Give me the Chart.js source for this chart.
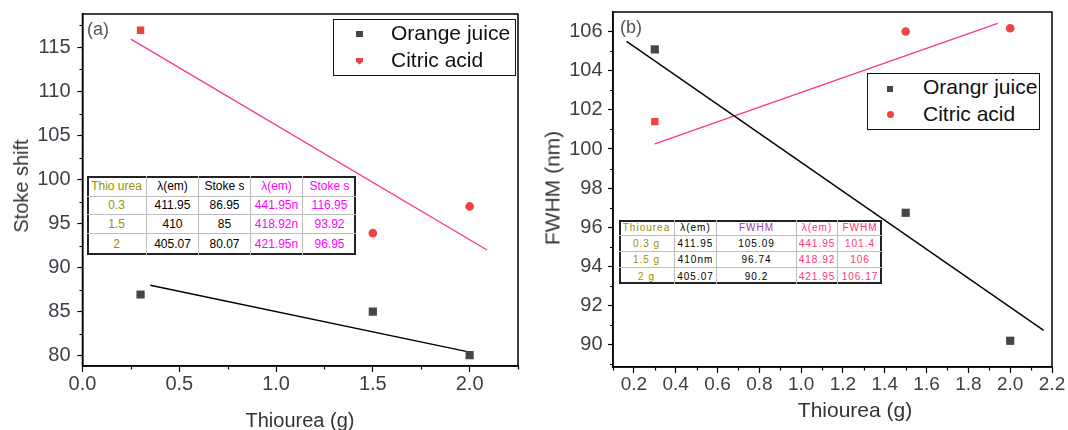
<!DOCTYPE html>
<html><head><meta charset="utf-8">
<script src="https://cdn.jsdelivr.net/npm/chart.js@4.4.1/dist/chart.umd.min.js"></script>
<style>
html,body{margin:0;padding:0;background:#fff;}
body{width:1068px;height:430px;overflow:hidden;position:relative;font-family:"Liberation Sans",Arial,sans-serif;}
canvas{position:absolute;top:0;}
.t{position:absolute;white-space:nowrap;}
</style></head><body>
<canvas id="cA" width="540" height="430" style="left:0px;width:540px;height:430px"></canvas>
<canvas id="cB" width="528" height="430" style="left:540px;width:528px;height:430px"></canvas>
<script>
// ---------- data ----------
const thiourea = [0.3, 1.5, 2.0];
const stokeOrange = [86.95, 85, 80.07];
const stokeCitric = [116.95, 93.92, 96.95];
const fwhmOrange = [105.09, 96.74, 90.2];
const fwhmCitric = [101.4, 106, 106.17];
// fitted lines as drawn in the figure (end points)
const fitStokeOrangeX = [0.35, 2.0];
const fitStokeOrangeY = [88.0, 80.4];
const fitStokeCitricX = [0.25, 2.09];
const fitStokeCitricY = [115.95, 92.0];
const fitFwhmOrangeX = [0.165, 2.16];
const fitFwhmOrangeY = [105.5, 90.73];
const fitFwhmCitricX = [0.30, 1.94];
const fitFwhmCitricY = [100.26, 106.42];
// legend names
const namesA = ['Orange juice', 'Citric acid'];
const namesB = ['Orangr juice', 'Citric acid'];
// tick labels
const xTicksA = [0.0, 0.5, 1.0, 1.5, 2.0];
const yTicksA = [80, 85, 90, 95, 100, 105, 110, 115];
const xMinorA = [0.25, 0.75, 1.25, 1.75, 2.25];
const yMinorA = [82.5, 87.5, 92.5, 97.5, 102.5, 107.5, 112.5, 117.5];
const xTicksB = [0.2, 0.4, 0.6, 0.8, 1.0, 1.2, 1.4, 1.6, 1.8, 2.0, 2.2];
const yTicksB = [90, 92, 94, 96, 98, 100, 102, 104, 106];
const xMinorB = [0.1, 0.3, 0.5, 0.7, 0.9, 1.1, 1.3, 1.5, 1.7, 1.9, 2.1];
const yMinorB = [89, 91, 93, 95, 97, 99, 101, 103, 105];
// inset tables
const tableAHead = ['Thio urea', 'λ(em)', 'Stoke s', 'λ(em)', 'Stoke s'];
const tableARows = [
  ['0.3', '411.95', '86.95', '441.95n', '116.95'],
  ['1.5', '410', '85', '418.92n', '93.92'],
  ['2', '405.07', '80.07', '421.95n', '96.95']
];
const tableBHead = ['Thiourea', 'λ(em)', 'FWHM', 'λ(em)', 'FWHM'];
const tableBRows = [
  ['0.3 g', '411.95', '105.09', '441.95', '101.4'],
  ['1.5 g', '410nm', '96.74', '418.92', '106'],
  ['2 g', '405.07', '90.2', '421.95', '106.17']
];

// ---------- styles ----------
const C_ORANGE = '#464646';
const C_CITRIC = '#ef4242';
const C_FIT_O = '#000000';
const C_FIT_C = '#fa3690';
const TICK_COLOR = '#3e3e48';
const FONT = 'Liberation Sans';

const framePlugin = {
  id: 'frame',
  afterDraw(chart, args, opts) {
    const ctx = chart.ctx;
    const {left, top, right, bottom} = chart.chartArea;
    ctx.save();
    ctx.strokeStyle = '#000';
    ctx.lineWidth = 1.5;
    ctx.strokeRect(left, top, right - left, bottom - top);
    const xs = chart.scales.x, ys = chart.scales.y;
    ctx.lineWidth = 1.2;
    ctx.beginPath();
    for (const v of opts.xMinor) {
      const p = Math.round(xs.getPixelForValue(v)) + 0.5;
      ctx.moveTo(p, bottom); ctx.lineTo(p, bottom + 3.5);
    }
    for (const v of opts.yMinor) {
      const p = Math.round(ys.getPixelForValue(v)) + 0.5;
      ctx.moveTo(left, p); ctx.lineTo(left - 3, p);
    }
    ctx.stroke();
    ctx.restore();
  }
};

function pts(xs, ys) { return xs.map((x, i) => ({x: x, y: ys[i]})); }

function makeChart(id, o) {
  return new Chart(document.getElementById(id), {
    type: 'scatter',
    data: {
      datasets: [
        {label: o.names[0], data: pts(thiourea, o.orange), pointStyle: 'rect', pointRadius: 5.8,
         backgroundColor: C_ORANGE, borderColor: C_ORANGE, borderWidth: 0, order: 1},
        {label: o.names[1], data: pts(thiourea, o.citric), pointStyle: ['rect', 'circle', 'circle'],
         pointRadius: [5.2, 4.3, 4.3], backgroundColor: C_CITRIC, borderColor: C_CITRIC, borderWidth: 0, order: 1},
        {label: 'fitO', data: pts(o.fitOX, o.fitOY), showLine: true, pointRadius: 0,
         borderColor: C_FIT_O, borderWidth: 1.4, order: 2},
        {label: 'fitC', data: pts(o.fitCX, o.fitCY), showLine: true, pointRadius: 0,
         borderColor: C_FIT_C, borderWidth: 1.4, order: 2}
      ]
    },
    options: {
      responsive: false,
      animation: false,
      devicePixelRatio: 1,
      layout: {padding: {left: 0, right: o.padRight, top: o.padTop, bottom: 0}},
      plugins: {legend: {display: false}, tooltip: {enabled: false},
                frame: {xMinor: o.xMinor, yMinor: o.yMinor}},
      scales: {
        x: {
          type: 'linear', min: o.xMin, max: o.xMax,
          afterBuildTicks: s => { s.ticks = o.xTicks.map(v => ({value: v})); },
          afterFit: s => { s.height = o.xHeight; s.paddingLeft = 0; s.paddingRight = 0; },
          grid: {display: true, drawOnChartArea: false, drawTicks: true, tickLength: 6,
                 color: '#000', tickColor: '#000', tickWidth: 1.2},
          border: {display: true, color: '#000', width: 1.5},
          ticks: {autoSkip: false, maxRotation: 0, minRotation: 0, padding: o.xPad, color: TICK_COLOR,
                  font: {family: FONT, size: o.xFont}, callback: v => Number(v).toFixed(1)}
        },
        y: {
          type: 'linear', min: o.yMin, max: o.yMax,
          afterBuildTicks: s => { s.ticks = o.yTicks.map(v => ({value: v})); },
          afterFit: s => { s.width = o.yWidth; s.paddingTop = 0; s.paddingBottom = 0; },
          grid: {display: true, drawOnChartArea: false, drawTicks: true, tickLength: 5,
                 color: '#000', tickColor: '#000', tickWidth: 1.2},
          border: {display: true, color: '#000', width: 1.5},
          ticks: {autoSkip: false, padding: o.yPad, color: TICK_COLOR,
                  font: {family: FONT, size: 20}, callback: v => String(v)}
        }
      }
    },
    plugins: [framePlugin]
  });
}

makeChart('cA', {
  names: namesA, orange: stokeOrange, citric: stokeCitric,
  fitOX: fitStokeOrangeX, fitOY: fitStokeOrangeY, fitCX: fitStokeCitricX, fitCY: fitStokeCitricY,
  xMin: 0, xMax: 2.25, yMin: 78.83, yMax: 118.8,
  xTicks: xTicksA, yTicks: yTicksA, xMinor: xMinorA, yMinor: yMinorA,
  padRight: 22, padTop: 14, xHeight: 64, yWidth: 82.5, xPad: 0, yPad: 7, xFont: 20
});
makeChart('cB', {
  names: namesB, orange: fwhmOrange, citric: fwhmCitric,
  fitOX: fitFwhmOrangeX, fitOY: fitFwhmOrangeY, fitCX: fitFwhmCitricX, fitCY: fitFwhmCitricY,
  xMin: 0.1, xMax: 2.2, yMin: 88.86, yMax: 107,
  xTicks: xTicksB, yTicks: yTicksB, xMinor: xMinorB, yMinor: yMinorB,
  padRight: 16, padTop: 12, xHeight: 63, yWidth: 73, xPad: 0, yPad: 5.5, xFont: 19
});

// ---------- overlays (text) ----------
function addText(txt, left, baseline, size, color, opts) {
  opts = opts || {};
  const d = document.createElement('div');
  d.className = 't';
  d.textContent = txt;
  d.style.fontSize = size + 'px';
  d.style.lineHeight = size + 'px';
  d.style.color = color;
  d.style.top = (baseline - 0.8465 * size) + 'px';
  if (opts.center) {
    d.style.left = left + 'px';
    d.style.transform = 'translateX(-50%)';
  } else {
    d.style.left = left + 'px';
  }
  document.body.appendChild(d);
  return d;
}
function addVText(txt, cx, cy, size, color) {
  const d = document.createElement('div');
  d.className = 't';
  d.textContent = txt;
  d.style.fontSize = size + 'px';
  d.style.lineHeight = size + 'px';
  d.style.color = color;
  d.style.left = cx + 'px';
  d.style.top = cy + 'px';
  d.style.transform = 'translate(-50%,-50%) rotate(-90deg)';
  document.body.appendChild(d);
}
function addBox(l, t, w, h, css) {
  const d = document.createElement('div');
  d.style.cssText = 'position:absolute;left:' + l + 'px;top:' + t + 'px;width:' + w + 'px;height:' + h + 'px;box-sizing:border-box;' + (css || '');
  document.body.appendChild(d);
  return d;
}

// axis titles
addVText('Stoke shift', 20.5, 186, 20, '#333');
addText('Thiourea (g)', 300, 426.5, 20, '#333', {center: true});
addVText('FWHM (nm)', 552, 188, 21, '#333');
addText('Thiourea (g)', 855, 417, 21, '#333', {center: true});
// panel labels
addText('(a)', 87, 35.5, 18, '#555');
addText('(b)', 620, 33.5, 18, '#555');

// legends
addBox(333, 19, 183, 57, 'border:1.6px solid #111;background:#fff;');
addBox(356, 30.5, 6.5, 6.5, 'background:' + C_ORANGE + ';');
addBox(356, 57.5, 7, 7, 'background:' + C_CITRIC + ';clip-path:polygon(0 0,100% 0,100% 60%,50% 100%,0 60%);');
addText(namesA[0], 391, 40, 21, '#111');
addText(namesA[1], 391, 66.7, 21, '#111');

addBox(867, 73, 173, 57, 'border:1.6px solid #111;background:#fff;');
addBox(886.5, 85.5, 6.5, 6.5, 'background:' + C_ORANGE + ';');
addBox(886.5, 111, 7, 7, 'background:' + C_CITRIC + ';border-radius:50%;');
addText(namesB[0], 923, 94, 21, '#111');
addText(namesB[1], 923, 120.3, 21, '#111');

// tables
function buildTable(colX, rowY, head, rows, colColors, headColors, size, ls) {
  const x0 = colX[0], y0 = rowY[0];
  const W = colX[colX.length - 1] - x0, H = rowY[rowY.length - 1] - y0;
  const box = addBox(x0, y0, W, H, 'border:2px solid #222;background:#fff;');
  const all = [head].concat(rows);
  for (let r = 0; r < all.length; r++) {
    for (let c = 0; c < colX.length - 1; c++) {
      const cell = document.createElement('div');
      const last = c === colX.length - 2, lastR = r === all.length - 1;
      cell.style.cssText = 'position:absolute;box-sizing:border-box;display:flex;align-items:center;justify-content:center;overflow:hidden;white-space:nowrap;' +
        'left:' + (colX[c] - x0 - 2) + 'px;top:' + (rowY[r] - y0 - 2) + 'px;width:' + (colX[c + 1] - colX[c]) + 'px;height:' + (rowY[r + 1] - rowY[r]) + 'px;' +
        (last ? '' : 'border-right:1.5px solid #bdbdbd;') + (lastR ? '' : 'border-bottom:1.5px solid #bdbdbd;') +
        'font-size:' + size + 'px;letter-spacing:' + ls + 'px;color:' + (r === 0 ? headColors[c] : colColors[c]) + ';';
      cell.textContent = all[r][c];
      box.appendChild(cell);
    }
  }
}
buildTable([87, 147, 199, 251, 303, 356], [176, 197, 214.5, 233.5, 254.5], tableAHead, tableARows,
  ['#9c9000', '#000', '#000', '#ff00ff', '#ff00ff'], ['#9c9000', '#000', '#000', '#ff00ff', '#ff00ff'], 12, 0);
buildTable([619, 675, 717, 797, 838, 882], [220, 235.7, 252.3, 268.3, 284.3], tableBHead, tableBRows,
  ['#9c9000', '#000', '#000', '#ff3377', '#ff3377'], ['#9c9000', '#000', '#a03c96', '#ff3377', '#ff3377'], 10, 1);
</script>
</body></html>
